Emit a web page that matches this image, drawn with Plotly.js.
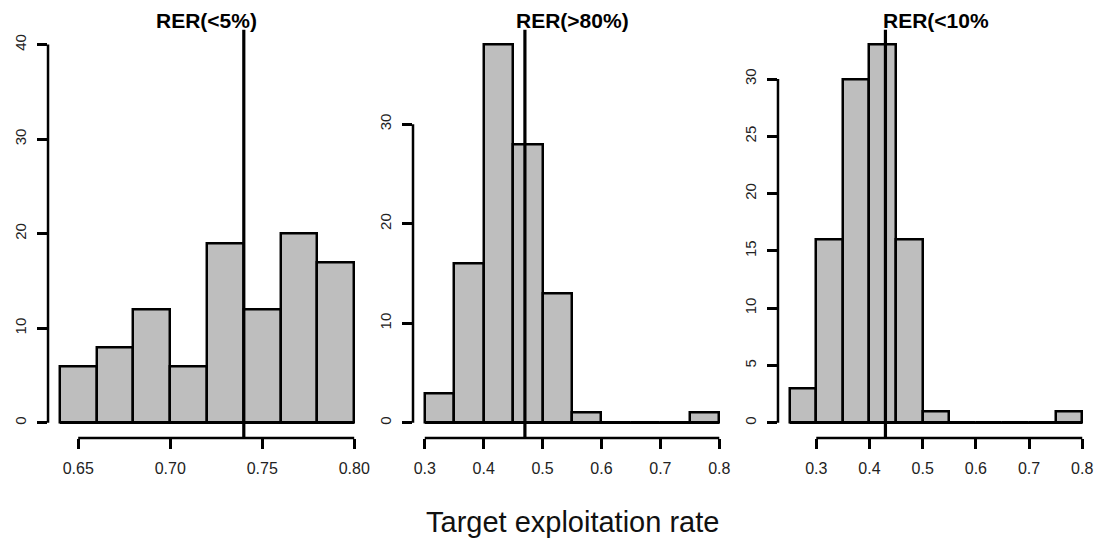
<!DOCTYPE html>
<html>
<head>
<meta charset="utf-8">
<script src="https://cdn.plot.ly/plotly-3.0.1.min.js"></script>
<style>html,body{margin:0;padding:0;background:#fff;}#chart{width:1099px;height:541px;}</style>
</head>
<body>
<div id="chart"></div>
<script>
// ---- Data ----
var titles = ["RER(<5%)", "RER(>80%)", "RER(<10%"];
var binStart = [0.64, 0.30, 0.25];
var binWidth = [0.02, 0.05, 0.05];
var counts1 = [6, 8, 12, 6, 19, 12, 20, 17];
var counts2 = [3, 16, 38, 28, 13, 1, 0, 0, 0, 1];
var counts3 = [3, 16, 30, 33, 16, 1, 0, 0, 0, 0, 1];
var refLine = [0.74, 0.47, 0.43];
var xTickVals1 = [0.65, 0.70, 0.75, 0.80];
var xTickText1 = ["0.65", "0.70", "0.75", "0.80"];
var xTickVals23 = [0.3, 0.4, 0.5, 0.6, 0.7, 0.8];
var xTickText23 = ["0.3", "0.4", "0.5", "0.6", "0.7", "0.8"];
var yTicks1 = [0, 10, 20, 30, 40];
var yTicks2 = [0, 10, 20, 30];
var yTicks3 = [0, 5, 10, 15, 20, 25, 30];
var yMax = [40, 38, 33];
var xAxisTitle = "Target exploitation rate";

// ---- Build ----
var countsAll = [counts1, counts2, counts3];
var xTV = [xTickVals1, xTickVals23, xTickVals23];
var xTT = [xTickText1, xTickText23, xTickText23];
var yTV = [yTicks1, yTicks2, yTicks3];
var domains = [[0.0437, 0.3330], [0.3758, 0.6652], [0.7079, 0.9954]];
var yDomain = [0.1904, 0.9455];
var FONT = "Liberation Sans, Arial, Helvetica, sans-serif";
var LW = 2.5;

var traces = [], shapes = [], annotations = [];
var layout = {
  width: 1099, height: 541, margin: {l: 0, r: 0, t: 0, b: 0},
  paper_bgcolor: "#ffffff", plot_bgcolor: "#ffffff",
  showlegend: false, hovermode: false, font: {family: FONT, color: "#000"}, bargap: 0
};
function toPaper(v, range, dom) {
  return dom[0] + (v - range[0]) / (range[1] - range[0]) * (dom[1] - dom[0]);
}
for (var p = 0; p < 3; p++) {
  var c = countsAll[p];
  var xs = [], ws = [];
  for (var i = 0; i < c.length; i++) { xs.push(binStart[p] + binWidth[p] * (i + 0.5)); ws.push(binWidth[p]); }
  var xEnd = binStart[p] + binWidth[p] * c.length;
  var sfx = p === 0 ? "" : String(p + 1);
  var xa = "x" + sfx, ya = "y" + sfx;
  // baseline: zero-count bins still show their outline at 0
  traces.push({type: "scatter", mode: "lines", x: [binStart[p], xEnd], y: [0, 0], xaxis: xa, yaxis: ya,
    line: {color: "#000", width: LW}});
  traces.push({type: "bar", x: xs, y: c, width: ws, xaxis: xa, yaxis: ya,
    marker: {color: "#bebebe", line: {color: "#000", width: LW}}});
  var xr = xEnd - binStart[p];
  var xRange = [binStart[p] - 0.04 * xr, xEnd + 0.04 * xr];
  var yRange = [-0.04 * yMax[p], yMax[p] * 1.04];
  layout["xaxis" + sfx] = {domain: domains[p], anchor: ya, range: xRange, showgrid: false, zeroline: false, showline: false,
    ticks: "outside", ticklen: 10, tickwidth: LW, tickcolor: "#000", tickvals: xTV[p], ticktext: xTT[p],
    ticklabelstandoff: 6, tickfont: {size: 16, family: FONT, color: "#222"}};
  layout["yaxis" + sfx] = {domain: yDomain, anchor: xa, range: yRange, showgrid: false, zeroline: false, showline: false,
    ticks: "outside", ticklen: 10, tickwidth: LW, tickcolor: "#000", tickvals: yTV[p], ticktext: yTV[p].map(String),
    tickangle: -90, ticklabelstandoff: 5, tickfont: {size: 15, family: FONT, color: "#222"}};
  // R-style axis lines spanning first to last tick
  var yt = yTV[p], xt = xTV[p];
  shapes.push({type: "line", xref: "paper", yref: "paper", x0: domains[p][0], x1: domains[p][0],
    y0: toPaper(yt[0], yRange, yDomain), y1: toPaper(yt[yt.length - 1], yRange, yDomain),
    line: {color: "#000", width: LW}});
  shapes.push({type: "line", xref: "paper", yref: "paper",
    x0: toPaper(xt[0], xRange, domains[p]), x1: toPaper(xt[xt.length - 1], xRange, domains[p]),
    y0: yDomain[0], y1: yDomain[0], line: {color: "#000", width: LW}});
  // reference line
  shapes.push({type: "line", xref: xa, yref: ya, x0: refLine[p], x1: refLine[p], y0: yRange[0], y1: yRange[1],
    line: {color: "#000", width: 3.2}});
  annotations.push({text: "<b>" + titles[p].replace("<", "&lt;") + "</b>", xref: xa + " domain", yref: "paper",
    x: 0.5, y: 0.963, xanchor: "center", yanchor: "middle", showarrow: false,
    font: {size: 21, family: FONT, color: "#000"}});
}
annotations.push({text: xAxisTitle, xref: "x2 domain", yref: "paper", x: 0.5, y: 0.035, xanchor: "center", yanchor: "middle",
  showarrow: false, font: {size: 29, family: FONT, color: "#111"}});
layout.shapes = shapes;
layout.annotations = annotations;
Plotly.newPlot("chart", traces, layout, {displayModeBar: false});
</script>
</body>
</html>
